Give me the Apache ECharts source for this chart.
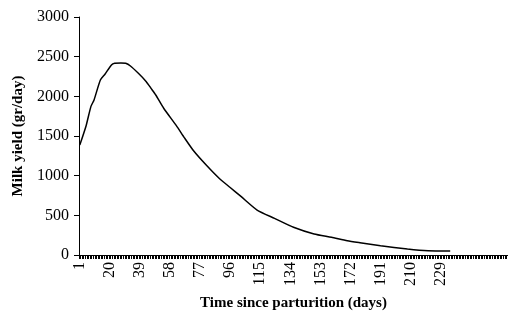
<!DOCTYPE html>
<html>
<head>
<meta charset="utf-8">
<script src="https://cdn.jsdelivr.net/npm/echarts@6/dist/echarts.min.js"></script>
<style>
  html, body { margin: 0; padding: 0; background: #fff; }
  #milk-chart { width: 508px; height: 318px; }
</style>
</head>
<body>
<div id="milk-chart"></div>
<script>
// days on the category axis (Excel-style, a tick for every day, labelled to day 240)
const totalDays = 271;
const lastLabelledDay = 240;
const days = [];
for (let d = 1; d <= totalDays; d++) days.push(String(d));

// values (day, gr/day)
const sampleDays = [1, 5, 8, 10, 14, 17, 21, 23, 27, 30, 33, 38, 43, 46, 49, 54, 62, 67, 73, 81, 89, 96, 103, 113, 124, 136, 149, 160, 170, 178, 191, 208, 221, 235];
const milkYield = [1386, 1630, 1870, 1954, 2206, 2282, 2395, 2416, 2420, 2416, 2382, 2290, 2185, 2101, 2017, 1850, 1630, 1480, 1310, 1130, 967, 851, 735, 567, 462, 349, 265, 223, 180, 155, 117, 76, 54, 50];

const yTicks = { min: 0, max: 3000, interval: 500 };

const serif = '"Liberation Serif", "DejaVu Serif", serif';

const chart = echarts.init(document.getElementById('milk-chart'));
chart.setOption({
  animation: false,
  grid: { left: 79, right: 0, top: 17, bottom: 63, containLabel: false, outerBoundsMode: 'none' },
  xAxis: {
    type: 'category',
    data: days,
    boundaryGap: true,
    name: 'Time since parturition (days)',
    nameLocation: 'middle',
    nameGap: 41,
    nameTextStyle: { fontFamily: serif, fontSize: 15, fontWeight: 'bold', color: '#000' },
    axisLine: { lineStyle: { color: '#000', width: 1 } },
    axisTick: { show: true, interval: 0, length: 4, lineStyle: { color: '#000', width: 1 } },
    axisLabel: {
      interval: 18,
      rotate: 90,
      margin: 7,
      fontFamily: serif,
      fontSize: 16,
      color: '#000',
      formatter: v => (+v <= lastLabelledDay ? v : '')
    },
    splitLine: { show: false }
  },
  yAxis: {
    type: 'value',
    min: yTicks.min,
    max: yTicks.max,
    interval: yTicks.interval,
    name: 'Milk yield (gr/day)',
    nameLocation: 'middle',
    nameGap: 51,
    nameTextStyle: { fontFamily: serif, fontSize: 15, fontWeight: 'bold', color: '#000' },
    axisLine: { show: true, lineStyle: { color: '#000', width: 1 } },
    axisTick: { show: true, length: 5, lineStyle: { color: '#000' } },
    axisLabel: { margin: 10, fontFamily: serif, fontSize: 16, color: '#000', formatter: v => String(v) },
    splitLine: { show: false }
  },
  series: [
    {
      name: 'Milk yield',
      type: 'line',
      showSymbol: false,
      smooth: 0.2,
      lineStyle: { color: '#000', width: 1.5 },
      data: sampleDays.map((d, i) => [d - 1, milkYield[i]])
    }
  ]
});
</script>
</body>
</html>
